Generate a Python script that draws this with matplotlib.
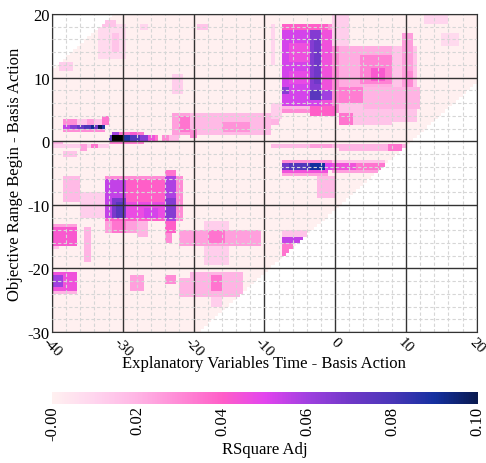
import numpy as np
import matplotlib
matplotlib.use('Agg')
import matplotlib.pyplot as plt
from matplotlib.colors import LinearSegmentedColormap

plt.rcParams['font.family'] = 'Liberation Serif'
plt.rcParams['font.size'] = 12
plt.rcParams['axes.unicode_minus'] = False

# time window of the search grid
x_min, x_max = -40, 20
y_min, y_max = -30, 20
cell = 0.5

x_ticks = [-40, -30, -20, -10, 0, 10, 20]
y_ticks = [-30, -20, -10, 0, 10, 20]
cbar_ticks = [0.0, 0.02, 0.04, 0.06, 0.08, 0.10]
cbar_labels = ['-0.00', '0.02', '0.04', '0.06', '0.08', '0.10']

# RSquare Adj by region: (time from, time to, begin from, begin to, value)
faint_top_left = [
    (-33.5, -29.5, 13.0, 18.5, 0.008),
    (-31.5, -30.5, 14.0, 17.0, 0.015),
    (-39.0, -37.0, 11.0, 12.5, 0.012),
    (-33.0, -31.0, 18.2, 19.2, 0.015),
    (-27.5, -26.5, 17.5, 18.5, 0.010),
]
bar_upper_left = [
    (-38.3, -32.2, 2.7, 3.7, 0.015),
    (-38.3, -36.5, 2.7, 3.7, 0.030),
    (-35.0, -34.0, 2.7, 3.7, 0.025),
    (-33.2, -32.2, 2.7, 3.9, 0.035),
    (-38.3, -37.5, 1.9, 2.7, 0.055),
    (-37.5, -36.5, 1.9, 2.7, 0.065),
    (-36.5, -35.6, 1.9, 2.7, 0.072),
    (-35.6, -34.7, 1.9, 2.7, 0.080),
    (-34.7, -34.1, 1.9, 2.7, 0.092),
    (-34.1, -33.5, 1.9, 2.7, 0.070),
    (-33.5, -33.0, 1.9, 2.7, 0.100),
    (-33.0, -32.3, 1.9, 2.7, 0.088),
    (-38.3, -32.3, 1.3, 1.9, 0.030),
]
bar_zero = [
    (-31.6, -27.0, 0.9, 1.6, 0.035),
    (-31.3, -30.6, 0.9, 1.6, 0.060),
    (-29.0, -28.2, 0.9, 1.6, 0.042),
    (-32.2, -27.0, -0.6, 0.1, 0.033),
    (-32.2, -31.6, 0.1, 0.9, 0.075),
    (-31.6, -30.2, 0.1, 0.9, 0.120),
    (-30.2, -29.0, 0.1, 0.9, 0.088),
    (-29.0, -27.6, 0.1, 0.9, 0.078),
    (-27.6, -26.6, 0.1, 0.9, 0.065),
    (-26.6, -25.7, 0.1, 0.9, 0.045),
    (-25.7, -25.1, 0.1, 0.9, 0.035),
    (-24.5, -23.3, 0.1, 0.9, 0.030),
    (-23.3, -21.9, 0.1, 0.9, 0.018),
    (-40.0, -32.0, -1.1, -0.3, 0.012),
    (-34.3, -33.3, -1.1, -0.3, 0.035),
    (-40.0, -38.5, -0.5, 0.0, 0.020),
    (-35.9, -35.0, -1.3, -0.6, 0.025),
    (-38.5, -36.7, -2.6, -1.6, 0.015),
]
band_mid = [
    (-23.0, -19.8, 1.1, 4.7, 0.025),
    (-22.0, -20.5, 1.5, 4.0, 0.035),
    (-23.0, -21.5, 7.7, 10.3, 0.012),
    (-20.5, -8.8, 1.1, 4.3, 0.018),
    (-16.0, -12.0, 1.3, 3.2, 0.028),
    (-20.5, -19.5, 0.7, 1.8, 0.030),
    (-8.9, -7.8, 2.5, 4.0, 0.020),
    (-9.0, -8.5, 12.0, 18.5, 0.010),
    (-19.6, -18.0, 17.5, 18.3, 0.015),
]
block_top = [
    (-7.6, 0.3, 4.7, 18.4, 0.030),
    (-7.5, -1.9, 5.6, 17.8, 0.052),
    (-6.4, -3.6, 12.6, 15.5, 0.046),
    (-6.4, -3.6, 9.0, 11.0, 0.048),
    (-3.6, -1.9, 6.5, 17.3, 0.066),
    (-3.1, -1.9, 9.0, 16.0, 0.070),
    (-3.6, -1.9, 6.6, 8.2, 0.076),
    (-7.5, -6.4, 7.5, 8.5, 0.065),
    (-1.9, -0.7, 5.6, 17.3, 0.045),
    (-0.7, 0.3, 5.6, 17.3, 0.030),
    (-1.9, -0.7, 6.6, 8.2, 0.060),
    (-7.5, -3.6, 4.8, 5.6, 0.020),
    (-3.6, 0.0, 3.8, 5.6, 0.040),
    (-7.5, -1.0, 17.6, 18.3, 0.040),
    (-9.2, -7.6, 3.5, 6.0, 0.012),
]
cloud_right = [
    (-0.7, 2.0, 15.0, 20.0, 0.012),
    (0.3, 11.7, 3.2, 15.2, 0.015),
    (0.3, 8.0, 5.8, 15.2, 0.022),
    (3.5, 8.0, 9.0, 13.5, 0.032),
    (5.0, 7.2, 9.5, 11.5, 0.042),
    (9.4, 11.0, 8.4, 17.0, 0.025),
    (9.8, 10.8, 8.5, 11.0, 0.030),
    (4.0, 12.0, 5.2, 8.4, 0.020),
    (0.3, 4.0, 5.8, 8.4, 0.033),
    (0.3, 2.5, 2.7, 4.3, 0.035),
    (2.5, 8.0, 2.7, 4.3, 0.015),
    (12.5, 16.2, 18.4, 20.0, 0.010),
    (15.0, 17.5, 15.0, 17.0, 0.008),
]
strip_zero = [
    (-8.9, 0.3, -1.1, -0.4, 0.018),
    (-3.5, -0.6, -1.1, -0.4, 0.025),
    (0.3, 10.0, -1.3, -0.3, 0.020),
    (7.6, 9.3, -1.3, -0.4, 0.035),
]
bar_lower_right = [
    (-7.5, -0.7, -3.4, -3.0, 0.030),
    (-0.7, 7.0, -3.4, -2.9, 0.015),
    (-7.5, -6.4, -4.4, -3.4, 0.070),
    (-6.4, -3.6, -4.4, -3.4, 0.078),
    (-3.6, -1.7, -4.4, -3.4, 0.090),
    (-1.7, -0.7, -4.4, -3.4, 0.050),
    (-0.7, 3.0, -4.4, -3.4, 0.045),
    (3.0, 7.6, -4.4, -3.4, 0.035),
    (-7.5, -1.0, -5.0, -4.4, 0.045),
    (-7.5, -1.0, -5.5, -5.0, 0.025),
    (-0.7, 6.0, -5.2, -4.4, 0.025),
    (-2.6, 0.0, -9.1, -5.5, 0.018),
]
block_lower_left = [
    (-32.3, -21.5, -12.5, -5.4, 0.040),
    (-32.3, -24.0, -6.2, -5.4, 0.030),
    (-32.3, -29.5, -12.2, -6.2, 0.055),
    (-31.6, -29.5, -12.2, -8.8, 0.068),
    (-31.0, -29.8, -11.8, -9.6, 0.076),
    (-29.5, -24.0, -12.2, -9.6, 0.047),
    (-27.0, -25.0, -12.2, -10.5, 0.052),
    (-24.0, -22.6, -12.5, -5.4, 0.058),
    (-24.0, -22.6, -12.0, -8.8, 0.066),
    (-24.0, -22.6, -5.4, -4.4, 0.035),
    (-22.6, -21.5, -12.5, -5.4, 0.030),
    (-32.3, -26.6, -14.3, -12.5, 0.025),
    (-31.6, -29.5, -14.3, -12.5, 0.035),
    (-28.0, -26.6, -15.0, -12.5, 0.020),
    (-24.0, -22.6, -14.5, -12.5, 0.040),
    (-23.8, -23.0, -16.0, -14.5, 0.030),
    (-38.4, -36.2, -9.5, -5.7, 0.018),
    (-36.2, -32.3, -12.0, -8.0, 0.012),
]
left_edge = [
    (-40.0, -36.5, -16.4, -13.0, 0.042),
    (-40.0, -36.5, -13.5, -13.0, 0.025),
    (-40.0, -38.8, -17.0, -16.4, 0.015),
    (-35.6, -34.6, -18.8, -14.5, 0.020),
    (-35.6, -34.6, -14.3, -13.3, 0.020),
    (-40.0, -36.5, -23.5, -20.6, 0.045),
    (-40.0, -38.4, -23.0, -21.1, 0.060),
    (-40.0, -36.5, -24.0, -23.5, 0.020),
]
lower_band = [
    (-29.1, -27.2, -23.3, -21.1, 0.025),
    (-24.0, -22.6, -22.5, -21.0, 0.030),
    (-22.0, -19.8, -24.3, -21.5, 0.020),
    (-20.5, -13.0, -24.3, -20.6, 0.020),
    (-17.7, -15.8, -23.5, -21.0, 0.035),
    (-17.5, -16.0, -26.0, -24.3, 0.012),
    (-18.6, -14.9, -19.5, -12.4, 0.012),
    (-22.0, -10.6, -16.4, -13.8, 0.025),
    (-18.0, -15.3, -16.2, -13.8, 0.035),
    (-7.6, -4.0, -14.9, -14.1, 0.015),
    (-7.6, -4.5, -16.2, -14.9, 0.055),
    (-7.6, -5.9, -18.0, -16.2, 0.035),
]

# build the cell grid from the regions
xe = np.arange(x_min, x_max + cell, cell)
ye = np.arange(y_min, y_max + cell, cell)
X, Y = np.meshgrid((xe[:-1] + xe[1:]) / 2, (ye[:-1] + ye[1:]) / 2)
rsq = np.zeros_like(X)
for group in [faint_top_left, bar_upper_left, bar_zero, band_mid, block_top,
              cloud_right, strip_zero, bar_lower_right, block_lower_left,
              left_edge, lower_band]:
    for x0, x1, y0, y1, v in group:
        rsq[(X >= x0) & (X < x1) & (Y >= y0) & (Y < y1)] = v

# only combinations that exist in the search are filled
valid = (X <= Y + 10.5) & (Y <= X + 51)
rsq = np.ma.masked_where(~valid, rsq)

cmap = LinearSegmentedColormap.from_list('rsq', [
    (0.0, '#fff0f0'), (0.1, '#ffd4ee'), (0.2, '#ffb4e4'), (0.3, '#ff8ad6'),
    (0.4, '#ff5ec8'), (0.5, '#e244ee'), (0.6, '#a040e0'), (0.7, '#7038c8'),
    (0.8, '#4a36b8'), (0.9, '#1430a0'), (1.0, '#0a1a50')])
cmap.set_over('black')
cmap.set_bad('white')

fig = plt.figure(figsize=(4.86, 4.64), dpi=100)
ax = fig.add_axes([0.107, 0.2823, 0.874, 0.6853])
mesh = ax.pcolormesh(xe, ye, rsq, cmap=cmap, vmin=0, vmax=0.1)

ax.set_xlim(x_min, x_max)
ax.set_ylim(y_min, y_max)
ax.set_xticks(x_ticks)
ax.set_yticks(y_ticks)
ax.set_xticks(np.arange(x_min, x_max + 1, 2), minor=True)
ax.set_yticks(np.arange(y_min, y_max + 1, 2), minor=True)
ax.set_axisbelow(False)
ax.grid(which='minor', color='#d6d6d6', lw=0.8, ls=(0, (3, 2)))
ax.grid(which='major', color='#333333', lw=1.0)
ax.tick_params(which='minor', length=0)
ax.tick_params(axis='y', which='major', length=0, pad=1.5)
ax.tick_params(axis='x', which='major', length=0, pad=2, labelsize=11)
plt.setp(ax.get_xticklabels(), rotation=-45, ha='center', va='top')
for s in ax.spines.values():
    s.set_color('#333333')

ax.set_xlabel('Explanatory Variables Time - Basis Action')
ax.set_ylabel('Objective Range Begin - Basis Action')
ax.xaxis.set_label_coords(0.5, -0.072)
ax.yaxis.set_label_coords(-0.068, 0.5)

cax = fig.add_axes([0.107, 0.127, 0.876, 0.026])
cb = fig.colorbar(mesh, cax=cax, orientation='horizontal', ticks=cbar_ticks)
cb.ax.set_xticklabels(cbar_labels, rotation=90)
cb.ax.tick_params(length=0, pad=1)
cb.outline.set_visible(False)
cb.set_label('RSquare Adj')
cb.ax.xaxis.set_label_coords(0.5, -3.05)

fig.savefig('out.png', dpi=100)
